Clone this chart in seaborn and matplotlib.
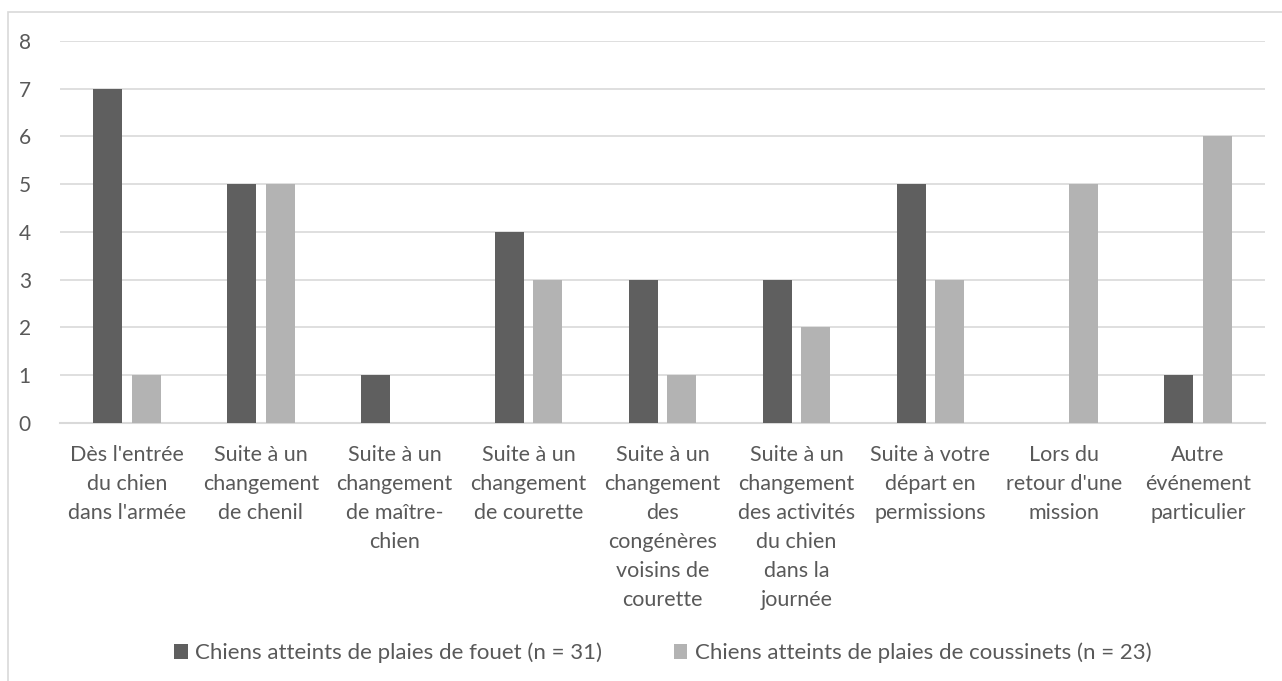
import pandas as pd
import numpy as np
import matplotlib.pyplot as plt
import seaborn as sns
from matplotlib.patches import Rectangle

# données
categories = [
    "Dès l'entrée\ndu chien\ndans l'armée",
    "Suite à un\nchangement\nde chenil",
    "Suite à un\nchangement\nde maître-\nchien",
    "Suite à un\nchangement\nde courette",
    "Suite à un\nchangement\ndes\ncongénères\nvoisins de\ncourette",
    "Suite à un\nchangement\ndes activités\ndu chien\ndans la\njournée",
    "Suite à votre\ndépart en\npermissions",
    "Lors du\nretour d'une\nmission",
    "Autre\névénement\nparticulier",
]
serie_fouet = [7, 5, 1, 4, 3, 3, 5, 0, 1]
serie_coussinets = [1, 5, 0, 3, 1, 2, 3, 5, 6]
nom_fouet = "Chiens atteints de plaies de fouet (n = 31)"
nom_coussinets = "Chiens atteints de plaies de coussinets (n = 23)"
yticks = [0, 1, 2, 3, 4, 5, 6, 7, 8]

df = pd.DataFrame({
    "cat": categories * 2,
    "val": serie_fouet + serie_coussinets,
    "serie": [nom_fouet] * len(categories) + [nom_coussinets] * len(categories),
})

sns.set_style("white")
plt.rcParams['font.family'] = ['Lato', 'DejaVu Sans']
txt = "#595959"
grid = "#d9d9d9"

fig = plt.figure(figsize=(12.82, 6.81), dpi=100)
ax = fig.add_axes([0.0468, 0.3789, 0.94, 0.5609])

sns.barplot(data=df, x="cat", y="val", hue="serie",
            palette=["#5f5f5f", "#b3b3b3"], width=0.577, gap=0.25,
            saturation=1, linewidth=0, ax=ax, zorder=3)

ax.set_ylim(0, 8)
ax.set_xlim(-0.5, len(categories) - 0.5)
ax.set_yticks(yticks)
ax.yaxis.grid(True, color=grid, linewidth=1.2, zorder=0)
ax.set_axisbelow(True)
for s in ["top", "right", "left"]:
    ax.spines[s].set_visible(False)
ax.spines["bottom"].set_color(grid)
ax.spines["bottom"].set_linewidth(1.5)
ax.set_xlabel("")
ax.set_ylabel("")
ax.tick_params(axis="both", length=0, colors=txt)
ax.tick_params(axis="x", labelsize=15.5, pad=16)
ax.tick_params(axis="y", labelsize=15, pad=21)
for lab in ax.get_xticklabels():
    lab.set_linespacing(1.56)
    lab.set_verticalalignment("top")

ax.legend_.remove()
h, l = ax.get_legend_handles_labels()
fig.legend(h, l, loc="center", bbox_to_anchor=(0.517, 1 - 653 / 681), ncol=2,
           frameon=False, fontsize=16, labelcolor=txt, handlelength=0.6,
           handleheight=0.6, handletextpad=0.35, columnspacing=3.2)

# cadre autour du graphique
fig.patches.append(Rectangle((8 / 1282, -0.02), 1.02, 1 - 12 / 681 + 0.02,
                             transform=fig.transFigure, fill=False,
                             edgecolor=grid, linewidth=1.2))

fig.savefig("out.png", dpi=100)
